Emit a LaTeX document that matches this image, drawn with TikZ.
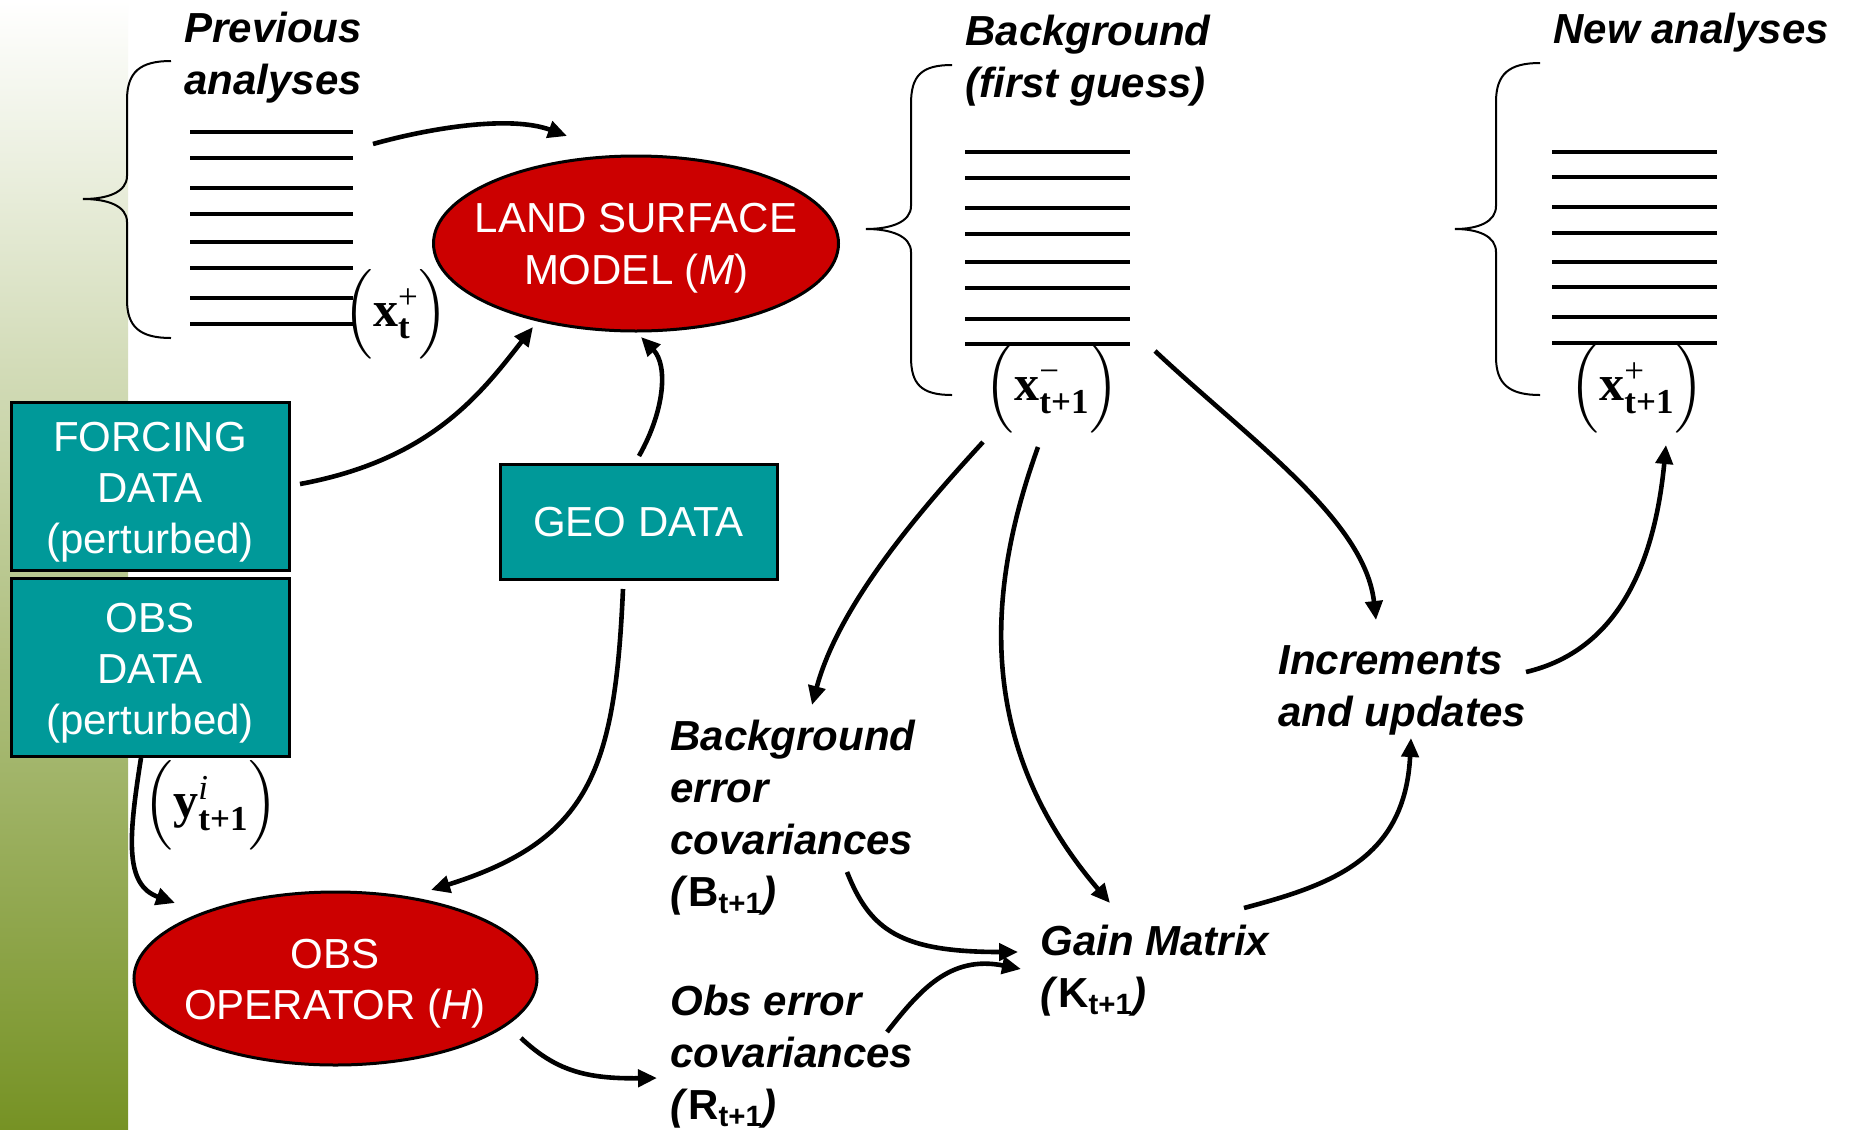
\documentclass[tikz,border=0pt]{standalone}
\usepackage{fontspec}
\usepackage{amsmath}
\setmainfont{Liberation Sans}
\newfontfamily\tnr{Liberation Serif}
\usetikzlibrary{shapes.geometric,arrows.meta}
\definecolor{boxteal}{RGB}{0,153,153}
\definecolor{lsred}{RGB}{204,0,0}
\definecolor{olivebot}{RGB}{118,146,36}
\definecolor{olivemid}{RGB}{192,206,152}
\newcommand\statevec[3]{\ensuremath{\left(\rule[-14pt]{0pt}{37pt}\text{\tnr\bfseries #1}^{\text{\tnr #2}}_{\text{\tnr\bfseries #3}}\right)}}
\begin{document}
\begin{tikzpicture}[x=0.5pt,y=-0.5pt,
  lbl/.style={font=\bfseries\itshape\fontsize{21}{26}\selectfont, align=left, anchor=north west, inner sep=0pt},
  boxtxt/.style={font=\fontsize{21}{25.5}\selectfont, text=white, align=center, inner sep=0pt},
  databox/.style={draw=black, line width=1.5pt, fill=boxteal, inner sep=0pt},
  redell/.style={ellipse, draw=black, line width=1.5pt, fill=lsred, inner sep=0pt},
  mathlbl/.style={font=\fontsize{25}{29}\selectfont, inner sep=0pt},
  arr/.style={line width=2.3pt, -{Triangle[length=9.5pt,width=8.5pt]}},
  hl/.style={line width=1.6pt},
  brc/.style={line width=1pt}]
\useasboundingbox (0,0) rectangle (1853,1130);
\fill[white] (0,0) rectangle (1853,1130);
\shade[top color=white, middle color=olivemid, bottom color=olivebot] (0,0) rectangle (128,1130);

% braces
\draw[brc] (171,61) .. controls (140,61) and (127,72) .. (127,100) -- (127,176) .. controls (127,192) and (108,199) .. (83,199) .. controls (108,199) and (127,206) .. (127,222) -- (127,300) .. controls (127,327) and (140,338) .. (171,338);
\draw[brc] (952,65) .. controls (921,65) and (911,76) .. (911,104) -- (911,206) .. controls (911,222) and (891,229) .. (866,229) .. controls (891,229) and (911,236) .. (911,252) -- (911,357) .. controls (911,384) and (921,395) .. (952,395);
\draw[brc] (1540,63) .. controls (1509,63) and (1496,74) .. (1496,102) -- (1496,206) .. controls (1496,222) and (1478,229) .. (1455,229) .. controls (1478,229) and (1496,236) .. (1496,252) -- (1496,357) .. controls (1496,384) and (1509,395) .. (1540,395);

% ensemble lines
\foreach \y in {132,158,188,214,242,268,298,324} \draw[hl] (190,\y) -- (353,\y);
\foreach \y in {152,178,208,234,262,288,319,344} \draw[hl] (965,\y) -- (1130,\y);
\foreach \y in {152,177,207,233,262,287,317,343} \draw[hl] (1552,\y) -- (1717,\y);

% text labels
\node[lbl] (prevlbl) at (184,12) {Previous\\analyses};
\node[lbl] (bglbl) at (965,15) {Background\\(first guess)};
\node[lbl] (newlbl) at (1553,13) {New analyses};
\node[lbl] (inclbl) at (1278,645) {Increments\\and updates};
\node[lbl] (berr) at (670,720) {Background\\error\\covariances\\(\textup{B}\textsubscript{\upshape t+1})};
\node[lbl] (rerr) at (670,985) {Obs error\\covariances\\(\textup{R}\textsubscript{\upshape t+1})};
\node[lbl] (gain) at (1040,925) {Gain Matrix\\(\textup{K}\textsubscript{\upshape t+1})};

% state vectors
\node[mathlbl] (xt) at (396,314) {\statevec{x}{+}{t}};
\node[mathlbl] (xbg) at (1052,388) {\statevec{x}{−}{t+1}};
\node[mathlbl] (xnew) at (1637,388) {\statevec{x}{+}{t+1}};
\node[mathlbl] (yobs) at (211,805) {\statevec{y}{\itshape i}{t+1}};

% boxes
\node[databox, minimum width=139pt, minimum height=84pt] (forcing) at (150,486) {};
\node[boxtxt] (forcingtext) at (150,492) {FORCING\\DATA\\(perturbed)};
\node[databox, minimum width=139pt, minimum height=89pt] (obsdata) at (150,667) {};
\node[boxtxt] (obsdatatext) at (150,673) {OBS\\DATA\\(perturbed)};
\node[databox, minimum width=138.5pt, minimum height=57.5pt] (geo) at (638.5,521.5) {};
\node[boxtxt] (geotext) at (638.5,522) {GEO DATA};

% ellipses
\node[redell, minimum width=202.5pt, minimum height=87.5pt] (lsm) at (636,243.5) {};
\node[boxtxt, font=\fontsize{21}{26}\selectfont] (lsmtext) at (636,248) {LAND SURFACE\\MODEL (\textit{M})};
\node[redell, minimum width=201.5pt, minimum height=86.5pt] (obsop) at (335.5,978.5) {};
\node[boxtxt] (obsoptext) at (335,984) {OBS\\OPERATOR (\textit{H})};

% connector end points
\coordinate (prevout) at (373,144);
\coordinate (lsmin1) at (567,136);
\coordinate (forcingout) at (300,484);
\coordinate (lsmin2) at (533,327);
\coordinate (geoout1) at (639,456);
\coordinate (lsmin3) at (641,337);
\coordinate (geoout2) at (623,589);
\coordinate (obsopin1) at (431,890);
\coordinate (obsout) at (141,758);
\coordinate (obsopin2) at (175,903);
\coordinate (obsopout) at (521,1038);
\coordinate (rin) at (657,1078);
\coordinate (bgout1) at (983,442);
\coordinate (bin) at (812,705);
\coordinate (bgout2) at (1038,447);
\coordinate (gainin1) at (1110,903);
\coordinate (bgout3) at (1155,351);
\coordinate (incin1) at (1376,620);
\coordinate (incout) at (1526,672);
\coordinate (newin) at (1666,445);
\coordinate (bout) at (847,872);
\coordinate (gainin2) at (1018,952);
\coordinate (rout) at (887,1032);
\coordinate (gainin3) at (1021,969);
\coordinate (gainout) at (1244,908);
\coordinate (incin2) at (1411,738);

% connectors
\draw[arr] (prevout) .. controls (430,128) and (510,115) .. (lsmin1);
\draw[arr] (forcingout) .. controls (430,460) and (480,395) .. (lsmin2);
\draw[arr] (geoout1) .. controls (665,410) and (668,365) .. (lsmin3);
\draw[arr] (geoout2) .. controls (615,770) and (590,840) .. (obsopin1);
\draw[arr] (obsout) .. controls (128,840) and (125,885) .. (obsopin2);
\draw[arr] (obsopout) .. controls (555,1070) and (585,1079) .. (rin);
\draw[arr] (bgout1) .. controls (930,500) and (840,600) .. (bin);
\draw[arr] (bgout2) .. controls (990,580) and (970,740) .. (gainin1);
\draw[arr] (bgout3) .. controls (1250,440) and (1365,520) .. (incin1);
\draw[arr] (incout) .. controls (1620,650) and (1655,560) .. (newin);
\draw[arr] (bout) .. controls (870,930) and (900,952) .. (gainin2);
\draw[arr] (rout) .. controls (920,990) and (950,955) .. (gainin3);
\draw[arr] (gainout) .. controls (1330,885) and (1405,860) .. (incin2);
\end{tikzpicture}
\end{document}
